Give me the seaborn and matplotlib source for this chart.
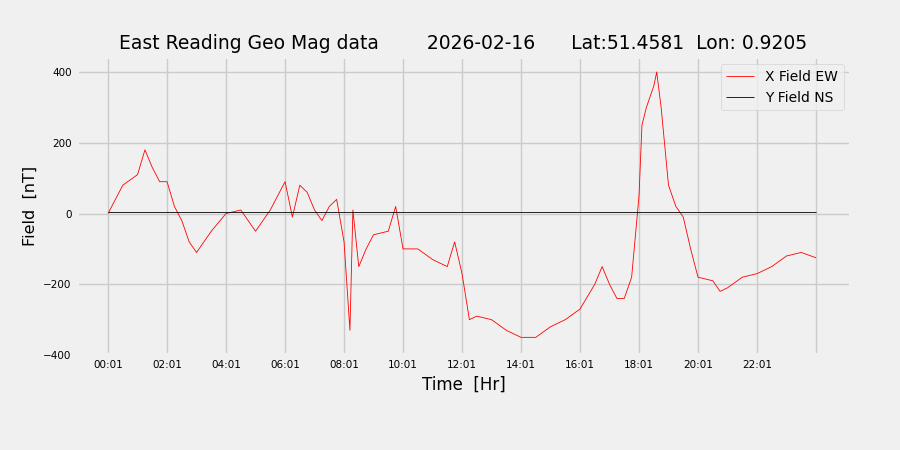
import matplotlib
matplotlib.use("Agg")
import matplotlib.pyplot as plt
import seaborn as sns
import pandas as pd

# hours since 00:01
hours = [0, 0.5, 1.0, 1.25, 1.5, 1.75, 2.0, 2.25, 2.5, 2.75, 3.0, 3.5, 4.0, 4.5, 5.0, 5.5,
         6.0, 6.25, 6.5, 6.75, 7.0, 7.25, 7.5, 7.75, 8.0, 8.2, 8.3, 8.5, 8.75, 9.0, 9.5,
         9.75, 10.0, 10.5, 11.0, 11.5, 11.75, 12.0, 12.25, 12.5, 13.0, 13.5, 14.0, 14.5,
         15.0, 15.5, 16.0, 16.5, 16.75, 17.0, 17.25, 17.5, 17.75, 18.0, 18.1, 18.25, 18.5,
         18.6, 18.75, 19.0, 19.25, 19.5, 19.75, 20.0, 20.5, 20.75, 21.0, 21.5, 22.0, 22.5,
         23.0, 23.5, 24.0]
x_field = [0, 80, 110, 180, 130, 90, 90, 20, -20, -80, -110, -50, 0, 10, -50, 10,
           90, -10, 80, 60, 10, -20, 20, 40, -80, -330, 10, -150, -100, -60, -50,
           20, -100, -100, -130, -150, -80, -170, -300, -290, -300, -330, -350, -350,
           -320, -300, -270, -200, -150, -200, -240, -240, -180, 50, 250, 300, 360,
           400, 300, 80, 20, -10, -100, -180, -190, -220, -210, -180, -170, -150,
           -120, -110, -125]
y_field = [5] * len(hours)
tick_labels = ["00:01", "02:01", "04:01", "06:01", "08:01", "10:01",
               "12:01", "14:01", "16:01", "18:01", "20:01", "22:01", ""]

plt.style.use("fivethirtyeight")
df = pd.DataFrame({"t": hours, "X Field EW": x_field, "Y Field NS": y_field})

fig, ax = plt.subplots(figsize=(9, 4.5), dpi=100)
fig.patch.set_facecolor("#f0f0f0")
sns.lineplot(data=df, x="t", y="X Field EW", color="red", linewidth=0.6, ax=ax, label="X Field EW")
sns.lineplot(data=df, x="t", y="Y Field NS", color="black", linewidth=0.6, ax=ax, label="Y Field NS")

ax.set_xticks(range(0, 25, 2))
ax.set_xticklabels(tick_labels, fontsize=7.5)
ax.tick_params(axis="y", labelsize=7.5)
ax.set_xlim(-1.07, 25.17)
ax.set_ylim(-400, 442)
ax.set_yticks([-400, -200, 0, 200, 400])
ax.set_xlabel("Time  [Hr]", fontsize=12)
ax.set_ylabel("Field  [nT]", fontsize=11.5)
ax.set_title("East Reading Geo Mag data        2026-02-16      Lat:51.4581  Lon: 0.9205", fontsize=13.5)
ax.legend(loc="upper right", fontsize=10, frameon=True)
fig.subplots_adjust(left=0.085, right=0.945, top=0.873, bottom=0.211)
fig.savefig("out.png", dpi=100)
